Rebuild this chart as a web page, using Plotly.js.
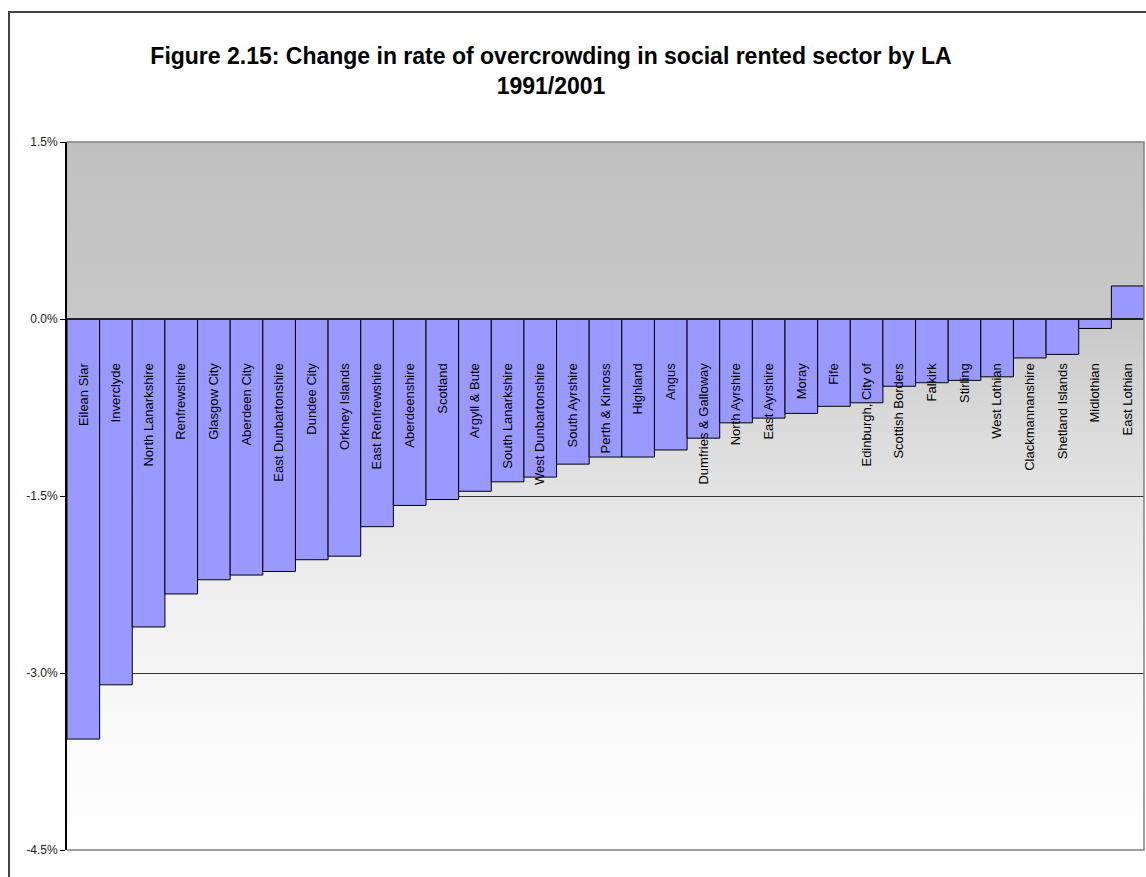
<!DOCTYPE html>
<html>
<head>
<meta charset="utf-8">
<script src="https://cdn.plot.ly/plotly-3.0.1.min.js"></script>
<style>
  html, body { margin: 0; padding: 0; background: #fff; overflow: hidden; }
  #frame { position: absolute; left: 8px; top: 11px; width: 1160px; height: 900px; border: 2px solid #444; box-sizing: border-box; }
  #chart { position: absolute; left: 0; top: 0; width: 1146px; height: 877px; }
</style>
</head>
<body>
<div id="frame"></div>
<div id="chart"></div>
<script>
// ---- data ----
const categories = [
  'Eilean Siar', 'Inverclyde', 'North Lanarkshire', 'Renfrewshire', 'Glasgow City',
  'Aberdeen City', 'East Dunbartonshire', 'Dundee City', 'Orkney Islands', 'East Renfrewshire',
  'Aberdeenshire', 'Scotland', 'Argyll & Bute', 'South Lanarkshire', 'West Dunbartonshire',
  'South Ayrshire', 'Perth & Kinross', 'Highland', 'Angus', 'Dumfries & Galloway',
  'North Ayrshire', 'East Ayrshire', 'Moray', 'Fife', 'Edinburgh, City of',
  'Scottish Borders', 'Falkirk', 'Stirling', 'West Lothian', 'Clackmannanshire',
  'Shetland Islands', 'Midlothian', 'East Lothian'
];
const changePct = [
  -3.56, -3.10, -2.61, -2.33, -2.21,
  -2.17, -2.14, -2.04, -2.01, -1.76,
  -1.58, -1.53, -1.46, -1.38, -1.34,
  -1.23, -1.17, -1.17, -1.11, -1.01,
  -0.88, -0.84, -0.80, -0.74, -0.71,
  -0.57, -0.54, -0.52, -0.49, -0.33,
  -0.30, -0.08, 0.28
];
const tickVals = [1.5, 0, -1.5, -3.0, -4.5];
const tickLabels = ['1.5%', '0.0%', '-1.5%', '-3.0%', '-4.5%'];
const yRange = [-4.5, 1.5];

// background gradient for the plot area
const gradSvg = '<svg xmlns="http://www.w3.org/2000/svg" width="100" height="100" preserveAspectRatio="none">' +
  '<defs><linearGradient id="g" x1="0" y1="0" x2="0" y2="1">' +
  '<stop offset="0" stop-color="#c0c0c0"/>' +
  '<stop offset="0.25" stop-color="#c8c8c8"/>' +
  '<stop offset="0.38" stop-color="#d8d8d8"/>' +
  '<stop offset="0.52" stop-color="#e6e6e6"/>' +
  '<stop offset="0.68" stop-color="#f2f2f2"/>' +
  '<stop offset="0.84" stop-color="#fafafa"/>' +
  '<stop offset="1" stop-color="#ffffff"/>' +
  '</linearGradient></defs><rect width="100" height="100" fill="url(#g)"/></svg>';

const zeroPos = (0 - yRange[0]) / (yRange[1] - yRange[0]);

const trace = {
  type: 'bar',
  x: categories,
  y: changePct,
  marker: { color: '#9999ff', line: { color: '#000000', width: 1 } },
  hoverinfo: 'x+y'
};

const font = "'Liberation Sans', Arial, sans-serif";

const layout = {
  width: 1146,
  height: 877,
  margin: { l: 67, r: 2, t: 142, b: 27, pad: 0 },
  paper_bgcolor: 'rgba(0,0,0,0)',
  plot_bgcolor: 'rgba(0,0,0,0)',
  showlegend: false,
  bargap: 0,
  font: { family: font, color: '#000' },
  title: {
    text: '<b>Figure 2.15: Change in rate of overcrowding in social rented sector by LA<br>1991/2001</b>',
    font: { family: font, size: 23, color: '#000' },
    x: 551 / 1146, xref: 'container', xanchor: 'center',
    y: 1 - 64 / 877, yref: 'container', yanchor: 'top'
  },
  xaxis: {
    type: 'category',
    anchor: 'free',
    position: zeroPos,
    side: 'bottom',
    showline: true,
    linecolor: '#222',
    linewidth: 2,
    showgrid: false,
    ticks: '',
    tickangle: -90,
    ticklabelstandoff: 38,
    tickfont: { family: font, size: 13, color: '#000' },
    zeroline: false,
    fixedrange: true
  },
  yaxis: {
    range: yRange,
    tickvals: tickVals,
    ticktext: tickLabels,
    showline: true,
    linecolor: '#000',
    linewidth: 2,
    ticks: 'outside',
    ticklen: 5,
    tickcolor: '#000',
    tickwidth: 1,
    showgrid: true,
    gridcolor: '#333',
    gridwidth: 1,
    zeroline: false,
    tickfont: { family: font, size: 12, color: '#222' },
    fixedrange: true
  },
  images: [{
    source: 'data:image/svg+xml;charset=utf-8,' + encodeURIComponent(gradSvg),
    xref: 'paper', yref: 'paper', x: 0, y: 1, sizex: 1, sizey: 1,
    xanchor: 'left', yanchor: 'top', sizing: 'stretch', layer: 'below'
  }],
  shapes: [{
    type: 'path', xref: 'paper', yref: 'paper',
    path: 'M0,1 L1,1 L1,0 L0,0',
    line: { color: '#808080', width: 1.5 },
    layer: 'above'
  }]
};

Plotly.newPlot('chart', [trace], layout, { displayModeBar: false, staticPlot: true });
</script>
</body>
</html>
